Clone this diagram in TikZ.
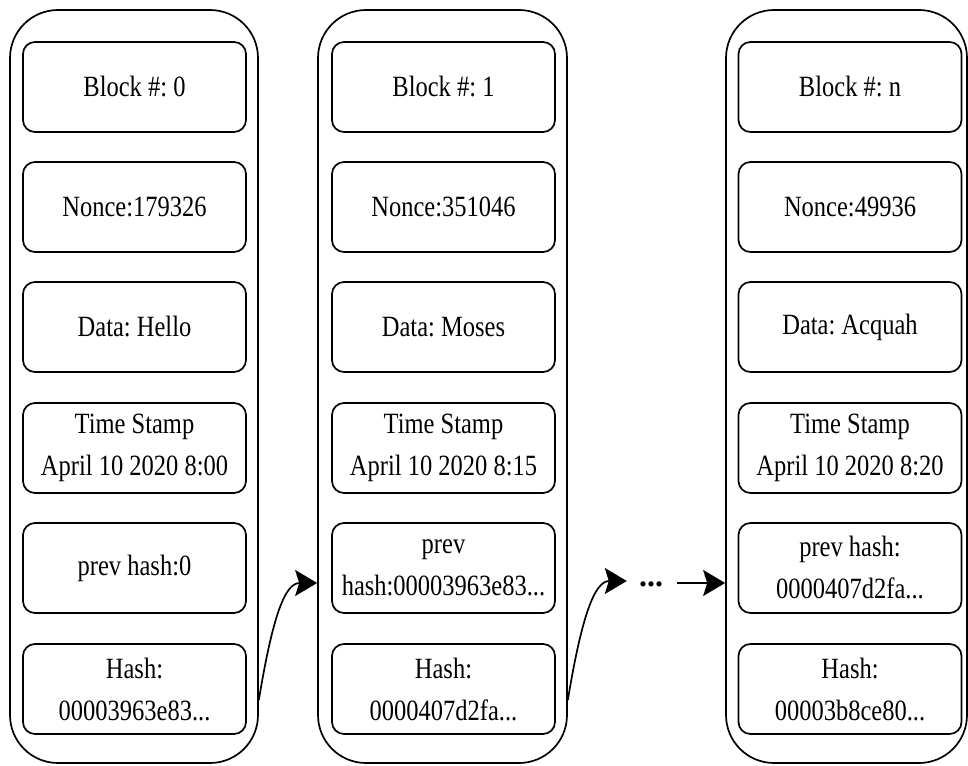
\documentclass[tikz,border=0pt]{standalone}
\usepackage{fontspec}
\usepackage{graphicx}
\setmainfont{Liberation Serif}
\usetikzlibrary{arrows.meta}
\newcommand\tl[1]{\scalebox{1}[1.2]{#1}}
\frenchspacing
\begin{document}
\begin{tikzpicture}[x=1pt,y=-1pt,
  container/.style={draw, line width=1.7pt, rounded corners=48pt, inner sep=0pt},
  field/.style={draw, line width=1.7pt, rounded corners=12pt, inner sep=0pt,
    minimum width=223pt, minimum height=90pt, align=center,
    font=\fontsize{24.5}{42}\selectfont},
  link/.style={line width=1.7pt, -{Stealth[length=22pt,width=26pt,inset=4pt]}}]
\useasboundingbox (0,0) rectangle (968,765);
% containers
\node[container, minimum width=248pt, minimum height=753pt] (c1) at (134,386.5) {};
\node[container, minimum width=249pt, minimum height=753pt] (c2) at (442.5,386.5) {};
\node[container, minimum width=241pt, minimum height=753pt] (c3) at (846.5,386.5) {};
% column 1
\node[field] (b0) at (134.5,87) {\tl{Block \#: 0}};
\node[field] (n0) at (134.5,207) {\tl{Nonce:179326}};
\node[field] (d0) at (134.5,327) {\tl{Data: Hello}};
\node[field] (t0) at (134.5,448) {\tl{Time Stamp}\\\tl{April 10 2020 8:00}};
\node[field] (p0) at (134.5,568) {\tl{prev hash:0}};
\node[field] (h0) at (134.5,689) {\tl{Hash:}\\\tl{00003963e83...}};
% column 2
\node[field] (b1) at (443.5,87) {\tl{Block \#: 1}};
\node[field] (n1) at (443.5,207) {\tl{Nonce:351046}};
\node[field] (d1) at (443.5,327) {\tl{Data: Moses}};
\node[field] (t1) at (443.5,448) {\tl{Time Stamp}\\\tl{April 10 2020 8:15}};
\node[field] (p1) at (443.5,568) {\tl{prev}\\\tl{hash:00003963e83...}};
\node[field] (h1) at (443.5,689) {\tl{Hash:}\\\tl{0000407d2fa...}};
% column 3
\node[field] (b2) at (850,87) {\tl{Block \#: n}};
\node[field] (n2) at (850,207) {\tl{Nonce:49936}};
\node[field] (d2) at (850,327) {\tl{Data: Acquah}};
\node[field] (t2) at (850,448) {\tl{Time Stamp}\\\tl{April 10 2020 8:20}};
\node[field] (p2) at (850,568) {\tl{prev hash:}\\\tl{0000407d2fa...}};
\node[field] (h2) at (850,689) {\tl{Hash:}\\\tl{00003b8ce80...}};
% ellipsis
\node[anchor=base, inner sep=0pt, font=\fontsize{32}{34}\selectfont\bfseries] (dots) at (651,586) {...};
% connectors
\draw[link] ([yshift=-313.5pt]c1.east) .. controls +(14,-85) and +(-32,0) .. ([yshift=-196.5pt]c2.west);
\draw[link] ([yshift=-313.5pt]c2.east) .. controls +(14,-85) and +(-32,0) .. ([xshift=-12pt,yshift=-194.5pt]dots.west |- c2.west);
\draw[link] ([xshift=14pt,yshift=-196.5pt]dots.east |- c3.west) -- ([yshift=-196.5pt]c3.west);
\end{tikzpicture}
\end{document}
